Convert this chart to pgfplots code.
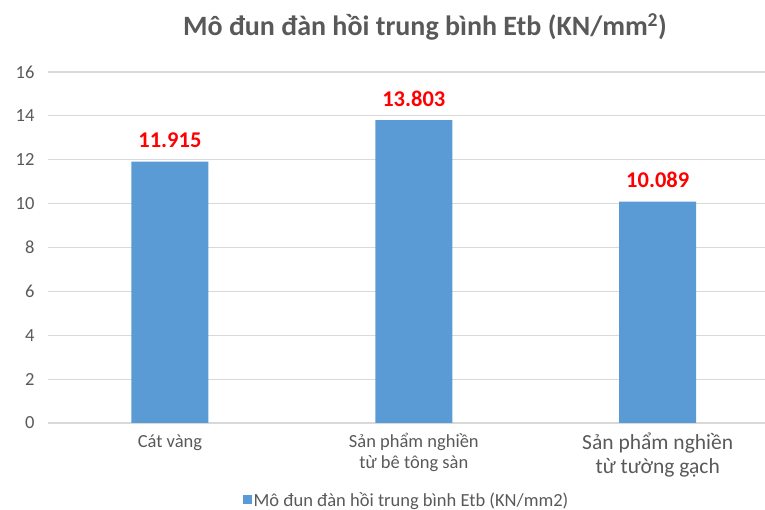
\documentclass[border=0pt]{standalone}
\usepackage{pgfplots}
\pgfplotsset{compat=1.18}
\usepackage{fontspec}
\setmainfont{Carlito}
\definecolor{barblue}{HTML}{5B9BD5}
\definecolor{txtgray}{HTML}{595959}
\definecolor{gridgray}{HTML}{D9D9D9}
\begin{document}
\begin{tikzpicture}
\begin{axis}[
  name=ax,
  scale only axis,
  width=717pt, height=351pt,
  xmin=-0.5, xmax=2.44,
  ymin=0, ymax=16,
  ytick={0,2,...,16},
  xtick={0,1,2},
  xticklabels={
    {\fontsize{18.5}{21}\selectfont\begin{tabular}{@{}c@{}}Cát vàng\\ \end{tabular}},
    {\fontsize{18.5}{21}\selectfont\begin{tabular}{@{}c@{}}Sản phẩm nghiền\\từ bê tông sàn\end{tabular}},
    {\fontsize{21.5}{24}\selectfont\begin{tabular}{@{}c@{}}Sản phẩm nghiền\\từ tường gạch\end{tabular}}
  },
  xticklabel style={anchor=north, yshift=-6pt, text=txtgray},
  yticklabel style={font=\fontsize{18.5}{20}\selectfont, text=txtgray, xshift=-10pt},
  /pgf/number format/assume math mode=true,
  major tick length=0pt,
  axis line style={draw=none},
  ymajorgrids,
  grid style={draw=gridgray, line width=1.1pt},
  clip=false,
  legend style={at={(0.5,-0.219)}, anchor=center, draw=none, fill=none,
    font=\fontsize{18.5}{20}\selectfont, text=txtgray, inner sep=0pt},
  legend image code/.code={\fill[barblue] (0pt,-4.5pt) rectangle (9pt,4.5pt);},
  nodes near coords,
  nodes near coords style={font=\fontsize{22.5}{24}\selectfont\bfseries, text=red,
    /pgf/number format/fixed, /pgf/number format/precision=3,
    /pgf/number format/fixed zerofill, /pgf/number format/assume math mode=true},
  every node near coord/.append style={anchor=south, yshift=10pt},
]
\addplot[ybar, bar width=77pt, fill=barblue, draw=none] coordinates {(0,11.915) (1,13.803) (2,10.089)};
\addlegendentry{Mô đun đàn hồi trung bình Etb (KN/mm2)}
\end{axis}
\node[font=\fontsize{28}{32}\selectfont\bfseries, text=txtgray] at ([xshift=377pt, yshift=396pt]ax.south west) {Mô đun đàn hồi trung bình Etb (KN/mm\textsuperscript{2})};
\pgfresetboundingbox
\path[use as bounding box] ([xshift=-48pt, yshift=-87pt]ax.south west) rectangle ([xshift=717pt, yshift=423pt]ax.south west);
\end{tikzpicture}
\end{document}
